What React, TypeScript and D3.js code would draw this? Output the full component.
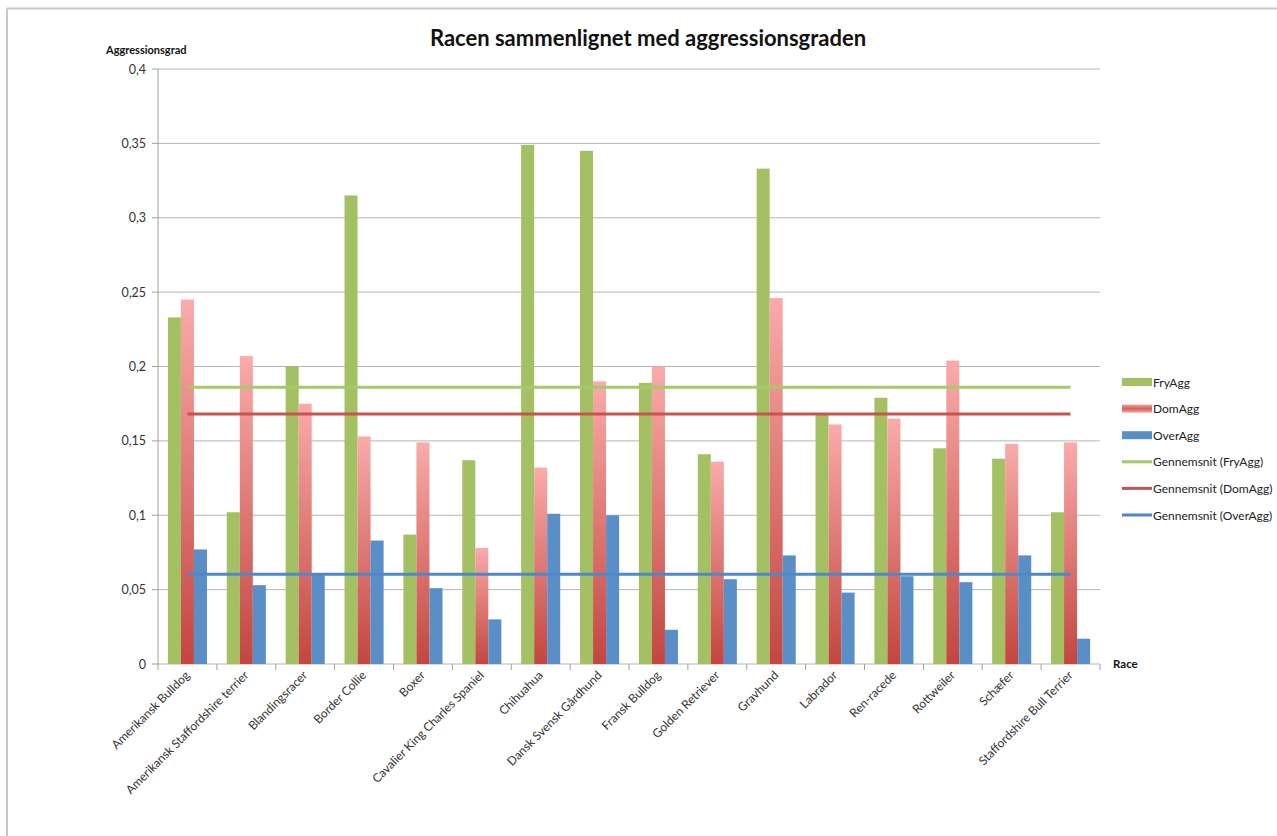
import React from "react";
import * as d3 from "d3";

const categories = [
  "Amerikansk Bulldog",
  "Amerikansk Staffordshire terrier",
  "Blandingsracer",
  "Border Collie",
  "Boxer",
  "Cavalier King Charles Spaniel",
  "Chihuahua",
  "Dansk Svensk Gårdhund",
  "Fransk Bulldog",
  "Golden Retriever",
  "Gravhund",
  "Labrador",
  "Ren-racede",
  "Rottweiler",
  "Schæfer",
  "Staffordshire Bull Terrier",
];

const fryAgg = [0.233, 0.102, 0.2, 0.315, 0.087, 0.137, 0.349, 0.345, 0.189, 0.141, 0.333, 0.168, 0.179, 0.145, 0.138, 0.102];
const domAgg = [0.245, 0.207, 0.175, 0.153, 0.149, 0.078, 0.132, 0.19, 0.2, 0.136, 0.246, 0.161, 0.165, 0.204, 0.148, 0.149];
const overAgg = [0.077, 0.053, 0.06, 0.083, 0.051, 0.03, 0.101, 0.1, 0.023, 0.057, 0.073, 0.048, 0.059, 0.055, 0.073, 0.017];

const avgFry = 0.186;
const avgDom = 0.168;
const avgOver = 0.0603;

const yTicks = [0, 0.05, 0.1, 0.15, 0.2, 0.25, 0.3, 0.35, 0.4];
const seriesNames = ["FryAgg", "DomAgg", "OverAgg"];
const legendLabels = ["FryAgg", "DomAgg", "OverAgg", "Gennemsnit (FryAgg)", "Gennemsnit (DomAgg)", "Gennemsnit (OverAgg)"];

const GREEN = "#a3c162";
const BLUE = "#5a8ec6";
const FONT = "Lato, 'Open Sans', sans-serif";

export default function App() {
  const left = 158, right = 1100, top = 69, bottom = 664;
  const x = d3.scaleBand<string>().domain(categories).range([left, right]).padding(0);
  const inner = d3.scaleBand<string>().domain(seriesNames).range([0, x.bandwidth()]).paddingInner(0).paddingOuter(0.76);
  const y = d3.scaleLinear().domain([0, 0.4]).range([bottom, top]);
  const fmt = (v: number) => (v === 0 ? "0" : String(+v.toFixed(2)).replace(".", ","));
  const seriesData = [fryAgg, domAgg, overAgg];
  const fills = [GREEN, "url(#domGrad)", BLUE];
  const x0 = (x(categories[0]) as number) + x.bandwidth() / 2;
  const x1 = (x(categories[categories.length - 1]) as number) + x.bandwidth() / 2;
  const avgs = [
    { v: avgFry, c: "#a6c96a" },
    { v: avgDom, c: "#c9534f" },
    { v: avgOver, c: "#4f88c6" },
  ];
  const boundaries = d3.range(categories.length + 1).map((i) => left + i * x.step());

  return (
    <svg width={1277} height={836} style={{ position: "absolute", left: 0, top: 0, background: "#fff" }} fontFamily={FONT}>
      <defs>
        <linearGradient id="domGrad" x1="0" y1="0" x2="0" y2="1">
          <stop offset="0" stopColor="#f9abaa" />
          <stop offset="1" stopColor="#c3463f" />
        </linearGradient>
        <linearGradient id="domLeg" x1="0" y1="0" x2="0" y2="1">
          <stop offset="0" stopColor="#f0a09d" />
          <stop offset="0.5" stopColor="#d7625e" />
          <stop offset="1" stopColor="#f0a09d" />
        </linearGradient>
      </defs>
      <rect x={0} y={0} width={1277} height={836} fill="#fff" />
      <line x1={7} x2={1277} y1={8.5} y2={8.5} stroke="#c8c8c8" strokeWidth={2} />
      <line x1={7} x2={7} y1={8.5} y2={836} stroke="#c8c8c8" strokeWidth={2} />

      <text x={648} y={46} textAnchor="middle" fontSize={22} fontWeight="bold" fill="#111">
        Racen sammenlignet med aggressionsgraden
      </text>
      <text x={106} y={54} fontSize={11} fontWeight="bold" fill="#111">Aggressionsgrad</text>
      <text x={1113} y={668} fontSize={11.5} fontWeight="bold" fill="#111">Race</text>

      {yTicks.map((t) => (
        <g key={t}>
          <line x1={left} x2={right} y1={y(t)} y2={y(t)} stroke="#b5b5b5" strokeWidth={1} />
          <line x1={left - 6} x2={left} y1={y(t)} y2={y(t)} stroke="#a0a0a0" />
          <text x={146} y={y(t) + 4.5} textAnchor="end" fontSize={12.5} fill="#333">{fmt(t)}</text>
        </g>
      ))}
      <line x1={left} x2={left} y1={top} y2={bottom} stroke="#a0a0a0" />
      {boundaries.map((b, i) => (
        <line key={i} x1={b} x2={b} y1={bottom} y2={bottom + 6} stroke="#a0a0a0" />
      ))}

      {categories.map((c, i) => (
        <g key={c}>
          {seriesData.map((s, k) => (
            <rect
              key={k}
              x={(x(c) as number) + (inner(seriesNames[k]) as number)}
              y={y(s[i])}
              width={inner.bandwidth()}
              height={bottom - y(s[i])}
              fill={fills[k]}
            />
          ))}
          <text
            transform={`translate(${(x(c) as number) + x.bandwidth() / 2 + 3},${bottom + 12}) rotate(-45)`}
            textAnchor="end"
            fontSize={12}
            fill="#333"
          >
            {c}
          </text>
        </g>
      ))}

      {avgs.map((a, i) => (
        <line key={i} x1={x0} x2={x1} y1={y(a.v)} y2={y(a.v)} stroke={a.c} strokeWidth={3} />
      ))}

      {legendLabels.map((l, i) => {
        const ly = 382 + i * 26.6;
        const sw =
          i < 3 ? (
            <rect x={1122} y={ly - 4} width={30} height={8} fill={i === 0 ? GREEN : i === 1 ? "url(#domLeg)" : BLUE} />
          ) : (
            <line x1={1122} x2={1152} y1={ly} y2={ly} stroke={avgs[i - 3].c} strokeWidth={3} />
          );
        return (
          <g key={l}>
            {sw}
            <text x={1153} y={ly + 4.5} fontSize={12} fill="#222">{l}</text>
          </g>
        );
      })}
    </svg>
  );
}
